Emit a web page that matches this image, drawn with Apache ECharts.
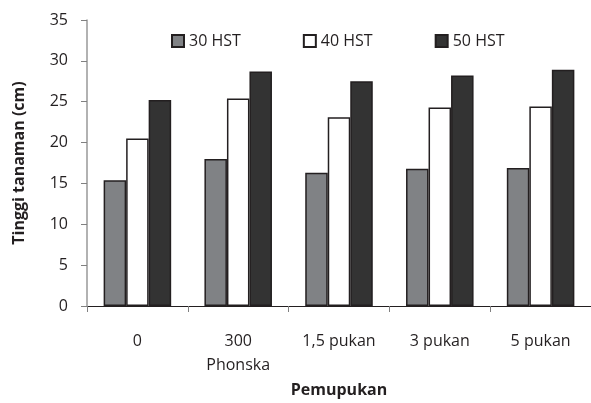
<!DOCTYPE html>
<html>
<head>
<meta charset="utf-8">
<script src="https://cdn.jsdelivr.net/npm/echarts@6/dist/echarts.min.js"></script>
<style>
  html, body { margin: 0; padding: 0; background: #fff; }
  #chart { width: 591px; height: 403px; }
</style>
</head>
<body>
<div id="chart"></div>
<script>
  // data
  const categories = ['0', '300\nPhonska', '1,5 pukan', '3 pukan', '5 pukan']
  const hst30 = [15.4, 18.0, 16.3, 16.8, 16.9]
  const hst40 = [20.5, 25.4, 23.1, 24.3, 24.4]
  const hst50 = [25.2, 28.7, 27.5, 28.2, 28.9]
  const seriesNames = ['30 HST', '40 HST', '50 HST']
  const yTicks = { min: 0, max: 35, interval: 5 }

  const font = 'Open Sans'
  const fills = ['#808285', '#ffffff', '#333333']
  const outline = '#231f20'

  let myChart = echarts.init(document.getElementById('chart'))

  const values = [hst30, hst40, hst50]
  let series = []
  seriesNames.forEach(function (name, i) {
    series.push({
      name: name,
      type: 'bar',
      data: values[i],
      barGap: 0,
      barCategoryGap: '33%',
      itemStyle: {
        color: fills[i],
        borderColor: outline,
        borderWidth: 1.5
      }
    })
  })

  let option = {
    animation: false,
    backgroundColor: '#fff',
    textStyle: { fontFamily: font },
    legend: {
      top: 28,
      left: 166,
      itemGap: 62,
      itemWidth: 12,
      itemHeight: 12,
      icon: 'rect',
      textStyle: { fontSize: 16, color: '#231f20', fontFamily: font }
    },
    grid: {
      left: 87,
      right: 0,
      top: 20,
      bottom: 96
    },
    xAxis: {
      type: 'category',
      data: categories,
      name: 'Pemupukan',
      nameLocation: 'middle',
      nameGap: 76,
      nameTextStyle: { fontSize: 16, fontWeight: 'bold', color: '#231f20' },
      axisLine: { lineStyle: { color: '#231f20', width: 1 } },
      axisTick: { show: true, length: 6, lineStyle: { color: '#808080' } },
      axisLabel: {
        fontSize: 16,
        color: '#231f20',
        margin: 23,
        lineHeight: 24,
        verticalAlign: 'top'
      },
      splitLine: { show: false }
    },
    yAxis: {
      type: 'value',
      min: yTicks.min,
      max: yTicks.max,
      interval: yTicks.interval,
      name: 'Tinggi tanaman (cm)',
      nameLocation: 'middle',
      nameGap: 60,
      nameTextStyle: { fontSize: 16, fontWeight: 'bold', color: '#231f20' },
      axisLine: { show: true, lineStyle: { color: '#999999', width: 1.5 } },
      axisTick: { show: true, length: 6, lineStyle: { color: '#808080' } },
      axisLabel: { fontSize: 16, color: '#231f20', margin: 19 },
      splitLine: { show: false }
    },
    series: series
  }

  myChart.setOption(option)
</script>
</body>
</html>
